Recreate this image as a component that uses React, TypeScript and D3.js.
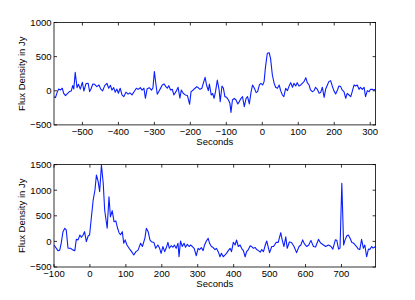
import React from 'react';
import * as d3 from 'd3';

const topSeconds = [-579,-575,-570,-566,-561,-556,-552,-547,-541,-536,-531,-527,-524,-520,-515,-511,-506,-500,-496,-490,-484,-480,-476,-471,-466,-460,-454,-449,-444,-438,-432,-427,-422,-418,-413,-409,-404,-400,-395,-390,-385,-379,-373,-368,-362,-356,-350,-345,-339,-334,-329,-325,-320,-314,-308,-304,-300,-296,-292,-288,-283,-278,-273,-268,-264,-260,-255,-250,-246,-240,-234,-229,-225,-220,-214,-208,-202,-198,-192,-187,-182,-177,-173,-168,-164,-159,-155,-150,-147,-142,-138,-134,-130,-125,-120,-117,-112,-108,-104,-99,-94,-90,-87,-83,-78,-73,-68,-64,-59,-55,-50,-45,-41,-36,-31,-27,-22,-17,-13,-8,-4,1,5,9,14,19,23,28,33,37,42,47,51,56,60,65,70,74,79,84,88,93,97,102,107,111,116,121,125,130,134,139,144,148,153,158,162,167,172,176,181,185,190,195,199,204,209,213,218,222,227,232,236,241,246,250,255,259,264,269,273,278,283,287,292,297,301,306,310,315];
const topFlux = [-86,-100,-20,26,12,37,-37,-71,-37,-12,-3,75,26,270,45,95,24,125,-3,105,110,-12,30,100,95,60,85,24,-3,75,110,37,80,10,45,-20,24,-37,37,-60,-86,-20,-50,-30,-60,-10,37,20,45,10,37,-110,30,45,10,40,280,110,-51,-13,35,85,100,60,37,75,12,20,-61,-13,50,-110,12,-37,-61,-70,-198,-13,12,37,60,40,21,36,109,197,85,2,99,-62,-40,-110,-13,158,12,-159,70,36,-86,-96,-135,-184,-316,-135,-110,-135,-193,-159,-110,-86,-232,-110,-86,-193,-13,85,36,-27,-13,85,109,85,134,353,549,558,475,231,109,51,36,85,2,-62,-86,36,2,61,119,51,109,70,119,70,85,109,134,192,119,85,12,-13,2,51,21,-37,-27,51,-96,21,85,134,148,61,2,-47,12,70,61,12,-13,-110,-37,-62,-86,-13,85,70,85,21,51,21,51,-86,2,-13,21,21,12,21];

const botSeconds = [-100,-89,-84,-80,-75,-70,-66,-61,-54,-47,-42,-38,-33,-28,-24,-19,-15,-10,-5,-1,9,14,18,23,27,32,37,41,48,53,57,62,67,72,77,81,85,90,94,98,103,109,116,122,128,134,141,146,153,157,162,167,171,178,183,189,194,198,203,208,212,217,221,226,231,235,240,245,248,252,257,262,266,271,276,280,285,290,296,301,305,310,315,319,324,329,333,338,343,348,352,357,362,366,371,376,380,385,390,394,399,404,408,413,418,422,427,432,436,441,446,450,455,460,464,469,474,478,483,488,492,497,500,506,511,518,524,531,535,540,545,549,555,561,568,575,582,587,592,597,603,609,615,622,628,636,642,650,656,664,671,676,683,687,692,696,701,706,710,715,719,724,729,733,738,742,747,751,756,761,765,770,775,779,784,788,795];
const botFlux = [-70,-181,-170,-37,190,256,225,-135,-135,-170,-180,40,30,125,80,125,190,-5,105,125,808,1004,1297,1166,970,1492,1135,613,256,873,480,600,385,400,256,170,130,190,-37,30,-70,-135,-200,-265,-200,-170,-37,-100,65,256,190,30,-5,-20,-135,-70,-135,-233,-100,-200,-135,-18,-135,-84,-115,-70,-135,-37,-299,8,-100,-37,-115,-57,-100,-70,-100,-135,-280,-135,-160,-120,-180,-70,8,60,-37,-100,-120,-160,-135,-200,-300,-233,-300,-265,-233,-180,-135,-200,-18,-70,27,-100,-70,-135,-180,-300,-200,-160,-84,-100,-135,-120,-160,-180,-210,-160,-200,-70,8,-135,-220,-100,-100,-20,-20,170,30,-100,90,-135,-12,-20,-100,-220,-100,-70,30,-50,-100,-70,20,-100,-110,40,-30,-70,-100,-70,-100,-150,30,20,-150,-130,1135,-70,30,110,125,60,-20,-30,-70,-100,-150,-160,40,-135,-70,-300,-150,-160,-100,-130,-100];

const topXTicks = [-500, -400, -300, -200, -100, 0, 100, 200, 300];
const topYTicks = [-500, 0, 500, 1000];
const botXTicks = [-100, 0, 100, 200, 300, 400, 500, 600, 700];
const botYTicks = [-500, 0, 500, 1000, 1500];

const FONT = '"Liberation Sans", Arial, Helvetica, sans-serif';
const LEFT = 54;
const RIGHT = 375.6;
const TICK = 3;
const fmt = d3.format('d');

type PanelProps = {
  id: string;
  top: number;
  bottom: number;
  xDomain: [number, number];
  yDomain: [number, number];
  xs: number[];
  ys: number[];
  xTicks: number[];
  yTicks: number[];
};

function Panel({ id, top, bottom, xDomain, yDomain, xs, ys, xTicks, yTicks }: PanelProps) {
  const x = d3.scaleLinear().domain(xDomain).range([LEFT, RIGHT]);
  const y = d3.scaleLinear().domain(yDomain).range([bottom, top]);
  const pts: [number, number][] = xs.map((s, i) => [s, ys[i]]);
  const line = d3.line<[number, number]>().x(d => x(d[0])).y(d => y(d[1]));
  const midY = (top + bottom) / 2;
  return (
    <g>
      <defs>
        <clipPath id={id}>
          <rect x={LEFT} y={top} width={RIGHT - LEFT} height={bottom - top} />
        </clipPath>
      </defs>
      <path d={line(pts) || ''} fill="none" stroke="#0a1eff" strokeWidth={1.1} clipPath={`url(#${id})`} strokeLinejoin="round" />
      <rect x={LEFT} y={top} width={RIGHT - LEFT} height={bottom - top} fill="none" stroke="#000" strokeWidth={0.8} />
      {xTicks.map(t => (
        <g key={'x' + t}>
          <line x1={x(t)} x2={x(t)} y1={bottom} y2={bottom - TICK} stroke="#000" strokeWidth={0.8} />
          <line x1={x(t)} x2={x(t)} y1={top} y2={top + TICK} stroke="#000" strokeWidth={0.8} />
          <text x={x(t)} y={bottom + 10} textAnchor="middle" fontSize={9.5} fontFamily={FONT} fill="#000">{fmt(t)}</text>
        </g>
      ))}
      {yTicks.map(t => (
        <g key={'y' + t}>
          <line x1={LEFT} x2={LEFT + TICK} y1={y(t)} y2={y(t)} stroke="#000" strokeWidth={0.8} />
          <line x1={RIGHT} x2={RIGHT - TICK} y1={y(t)} y2={y(t)} stroke="#000" strokeWidth={0.8} />
          <text x={LEFT - 2.5} y={y(t) + 3.4} textAnchor="end" fontSize={9.5} fontFamily={FONT} fill="#000">{fmt(t)}</text>
        </g>
      ))}
      <text x={(LEFT + RIGHT) / 2} y={bottom + 20.2} textAnchor="middle" fontSize={9.5} fontFamily={FONT} fill="#000">Seconds</text>
      <text transform={`translate(25,${midY}) rotate(-90)`} textAnchor="middle" fontSize={9.5} fontFamily={FONT} fill="#000">Flux Density in Jy</text>
    </g>
  );
}

export default function App() {
  return (
    <svg width={415} height={300} style={{ position: 'absolute', left: 0, top: 0, background: '#fff' }}>
      <rect x={0} y={0} width={415} height={300} fill="#fff" />
      <Panel id="clipTop" top={22.5} bottom={124.9} xDomain={[-579, 315]} yDomain={[-500, 1000]}
        xs={topSeconds} ys={topFlux} xTicks={topXTicks} yTicks={topYTicks} />
      <Panel id="clipBot" top={164.6} bottom={267} xDomain={[-100, 795]} yDomain={[-500, 1500]}
        xs={botSeconds} ys={botFlux} xTicks={botXTicks} yTicks={botYTicks} />
    </svg>
  );
}
